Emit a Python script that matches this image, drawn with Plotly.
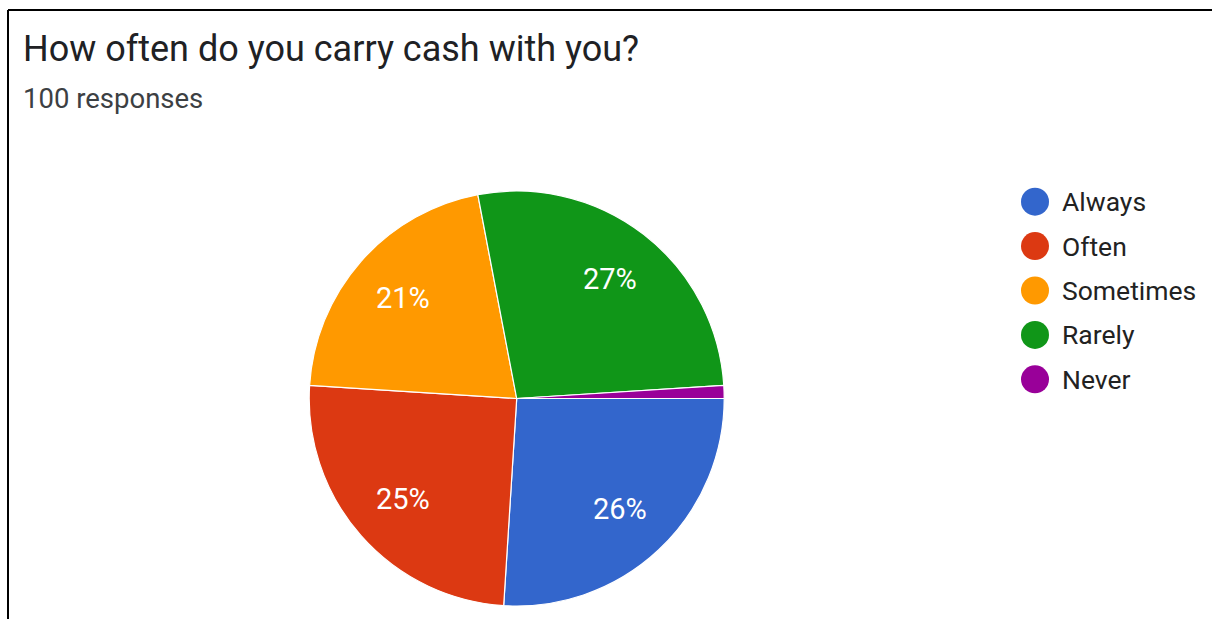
import math
import plotly.graph_objects as go

# Survey answers: "How often do you carry cash with you?"
categories = ["Always", "Often", "Sometimes", "Rarely", "Never"]
responses = [26, 25, 21, 27, 1]
colors = ["#3366cc", "#dc3912", "#ff9900", "#109618", "#990099"]

W, H = 1212, 619

def px(x):
    return x / W

def py(y):
    return 1 - y / H

# pie geometry in pixels
cx, cy, r = 516.7, 398.5, 207.5

total = sum(responses)

fig = go.Figure(
    go.Pie(
        labels=categories,
        values=responses,
        marker=dict(colors=colors, line=dict(color="white", width=1.2)),
        sort=False,
        direction="clockwise",
        rotation=90,
        textinfo="none",
        showlegend=False,
        hoverinfo="label+percent",
        domain=dict(x=[px(cx - r), px(cx + r)], y=[py(cy + r), py(cy - r)]),
    )
)

shapes = [
    # frame: top and left edges
    dict(type="line", xref="paper", yref="paper", x0=px(8), x1=px(W), y0=py(10), y1=py(10),
         line=dict(color="black", width=2)),
    dict(type="line", xref="paper", yref="paper", x0=px(8), x1=px(8), y0=py(10), y1=py(H),
         line=dict(color="black", width=2)),
]
annotations = [
    dict(text="How often do you carry cash with you?", x=px(21), y=py(49), xref="paper", yref="paper",
         xanchor="left", yanchor="middle", showarrow=False,
         font=dict(family="Roboto", size=36, color="#202124")),
    dict(text="100 responses", x=px(21), y=py(98), xref="paper", yref="paper",
         xanchor="left", yanchor="middle", showarrow=False,
         font=dict(family="Roboto", size=27.5, color="#3c4043")),
]

# percentage labels at each slice's mid-angle (clockwise from 3 o'clock)
acc = 0.0
for v in responses:
    share = v / total
    mid = (acc + share / 2) * 2 * math.pi
    acc += share
    if share < 0.05:
        continue
    lx = cx + 0.73 * r * math.cos(mid)
    ly = cy + 0.73 * r * math.sin(mid)
    annotations.append(dict(text=f"{round(100 * share)}%", x=px(lx), y=py(ly),
                            xref="paper", yref="paper", xanchor="center", yanchor="middle",
                            showarrow=False,
                            font=dict(family="Roboto", size=29, color="white")))

# legend with round swatches
leg_x, leg_y0, leg_dy, dot_r = 1035, 201.7, 44.4, 14
for i, (name, col) in enumerate(zip(categories, colors)):
    yc = leg_y0 + i * leg_dy
    shapes.append(dict(type="circle", xref="paper", yref="paper",
                       x0=px(leg_x - dot_r), x1=px(leg_x + dot_r),
                       y0=py(yc + dot_r), y1=py(yc - dot_r),
                       fillcolor=col, line=dict(width=0)))
    annotations.append(dict(text=name, x=px(1060), y=py(yc), xref="paper", yref="paper",
                            xanchor="left", yanchor="middle", showarrow=False,
                            font=dict(family="Roboto", size=26.5, color="#222222")))

fig.update_layout(
    width=W, height=H,
    margin=dict(l=0, r=0, t=0, b=0),
    paper_bgcolor="white",
    plot_bgcolor="white",
    shapes=shapes,
    annotations=annotations,
)

fig.write_html("out.html")
